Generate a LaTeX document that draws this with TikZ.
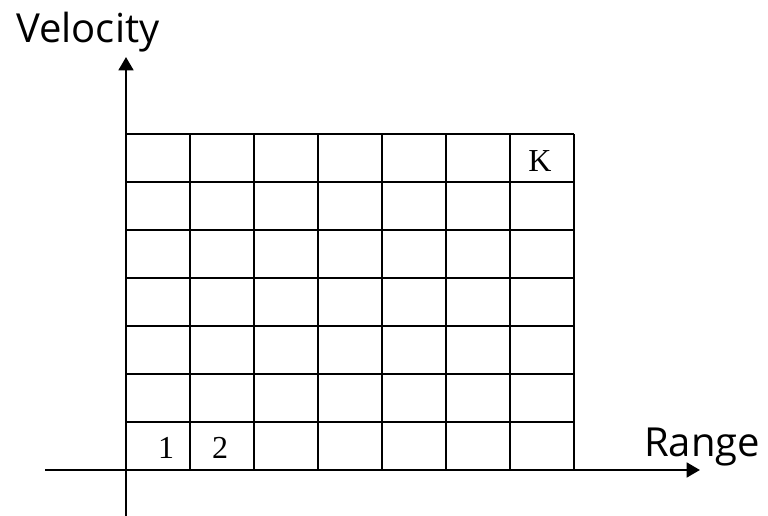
\documentclass[tikz,border=0pt]{standalone}
\usepackage{fontspec}
\setmainfont{Liberation Serif}
\newfontfamily\axisfont{Open Sans}
\usetikzlibrary{arrows.meta, positioning, calc}
\tikzstyle{axis} = [line width=2pt, -{Triangle[width=11pt, length=10pt]}]
\tikzstyle{gridline} = [line width=1.4pt]
\tikzstyle{axislabel} = [inner sep=0pt, anchor=base west, font=\axisfont\fontsize{30}{36}\selectfont]
\tikzstyle{cellnum} = [inner sep=0pt, anchor=base, font=\fontsize{24}{28}\selectfont]

\begin{document}
\begin{tikzpicture}[x=0.75pt, y=-0.75pt]
        \useasboundingbox (0,0) rectangle (768,516);
        \coordinate (origin) at (126,470);
        \coordinate (xstart) at (45,470);
        \coordinate (xend) at (700,470);
        \coordinate (ystart) at (126,516);
        \coordinate (yend) at (126,57);

        % cells
        \foreach \i in {1,...,7}
            \draw [gridline] (126+64*\i,134) -- (126+64*\i,470);
        \foreach \j in {0,...,6}
            \draw [gridline] (126,134+48*\j) -- (574,134+48*\j);

        \node (one) [cellnum] at (166,459) {1};
        \node (two) [cellnum] at (220,459) {2};
        \node (kay) [cellnum] at (540,172) {K};

        % axes
        \draw [axis] (xstart) -- (xend);
        \draw [axis] (ystart) -- (yend);
        \node (vel) [axislabel] at (16,43) {Velocity};
        \node (rng) [axislabel] at (644,457) {Range};
    \end{tikzpicture}
\end{document}
